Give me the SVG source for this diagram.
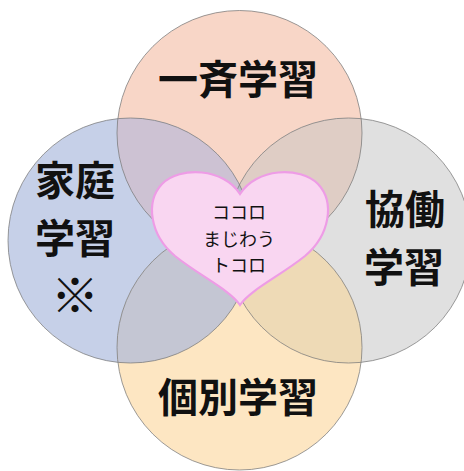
<svg xmlns="http://www.w3.org/2000/svg" width="464" height="471" viewBox="0 0 464 471">
  <style>
    .ring { fill: none; stroke: #7a7a7a; stroke-opacity: 0.75; stroke-width: 1; }
    .big { font-family: "Noto Sans CJK JP", "Noto Sans", sans-serif; font-weight: bold; font-size: 40px; fill: #111; text-anchor: middle; }
    .small { font-family: "Noto Sans CJK JP", "Noto Sans", sans-serif; font-size: 18px; fill: #111; text-anchor: middle; }
  </style>
  <defs>
    <clipPath id="cTop"><circle cx="239.5" cy="133" r="122.5"/></clipPath>
    <clipPath id="cBottom"><circle cx="239.5" cy="347.5" r="122.5"/></clipPath>
    <clipPath id="cLeft"><circle cx="130.5" cy="240.5" r="122.5"/></clipPath>
  </defs>
  <rect width="464" height="471" fill="#ffffff"/>

  <g id="ichisei">
    <circle cx="239.5" cy="133" r="122.5" fill="#F8D6C7"/>
  </g>
  <g id="katei">
    <circle cx="130.5" cy="240.5" r="122.5" fill="#C6D0E8"/>
  </g>
  <g id="kyodo">
    <circle cx="348.5" cy="240.5" r="122.5" fill="#E0E0E0"/>
  </g>
  <g id="kobetsu">
    <circle cx="239.5" cy="347.5" r="122.5" fill="#FDE6C2"/>
  </g>

  <g id="overlaps">
    <circle cx="130.5" cy="240.5" r="122.5" fill="#CDC2D3" clip-path="url(#cTop)"/>
    <circle cx="348.5" cy="240.5" r="122.5" fill="#DFCDC5" clip-path="url(#cTop)"/>
    <circle cx="130.5" cy="240.5" r="122.5" fill="#C4C6D3" clip-path="url(#cBottom)"/>
    <circle cx="348.5" cy="240.5" r="122.5" fill="#EEDAB6" clip-path="url(#cBottom)"/>
    <circle cx="348.5" cy="240.5" r="122.5" fill="#B9BDCC" clip-path="url(#cLeft)"/>
  </g>

  <g id="outlines">
    <circle class="ring" cx="239.5" cy="133" r="122.5"/>
    <circle class="ring" cx="130.5" cy="240.5" r="122.5"/>
    <circle class="ring" cx="348.5" cy="240.5" r="122.5"/>
    <circle class="ring" cx="239.5" cy="347.5" r="122.5"/>
  </g>

  <g id="labels">
    <text class="big" x="238" y="94">一斉学習</text>
    <text class="big" x="75" y="195">家庭</text>
    <text class="big" x="75" y="253">学習</text>
    <text class="big" x="75" y="313" style="font-size:48px">※</text>
    <text class="big" x="405" y="224">協働</text>
    <text class="big" x="404" y="282">学習</text>
    <text class="big" x="238" y="412">個別学習</text>
  </g>

  <g id="heart">
    <path d="M240 194 C224 168 180 166 162 184 C145 202 150 235 175 256 C200 276 230 290 240 305 C250 290 280 276 305 256 C330 235 335 202 318 184 C300 166 256 168 240 194 Z" fill="#F9D6F1" stroke="#EE9CE6" stroke-width="2.2"/>
    <text class="small" x="239" y="219">ココロ</text>
    <text class="small" x="239" y="246">まじわう</text>
    <text class="small" x="239" y="272">トコロ</text>
  </g>
</svg>
